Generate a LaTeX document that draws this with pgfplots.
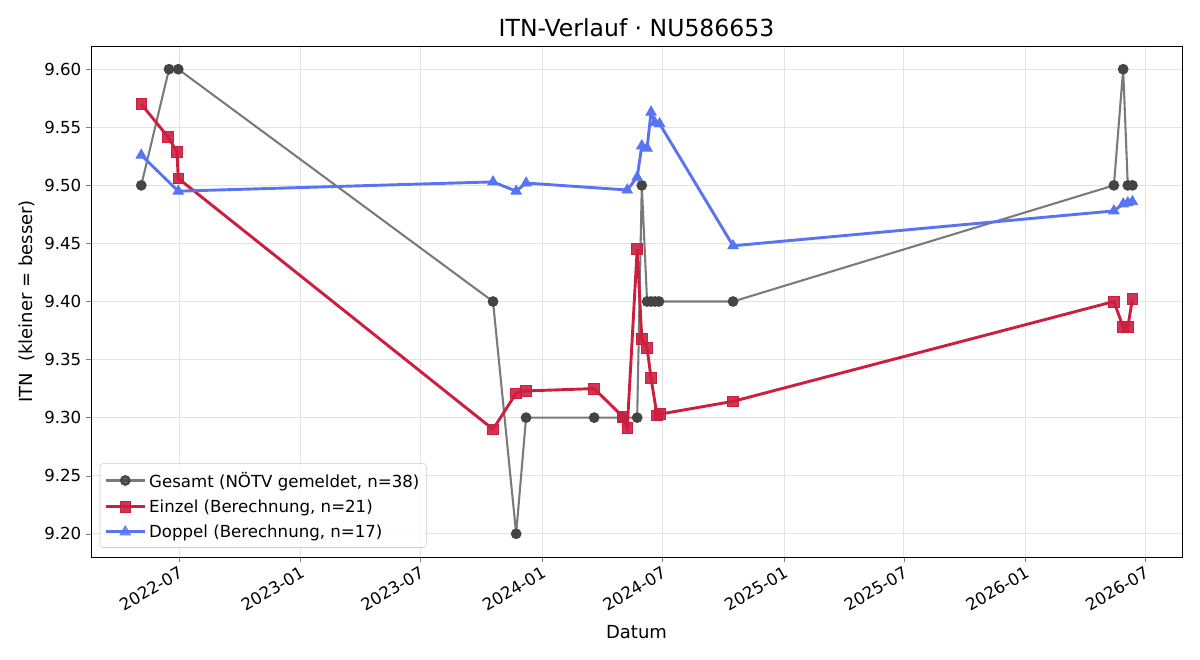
\documentclass[border=0pt]{standalone}
\usepackage{fontspec}
\setmainfont{DejaVu Sans}
\usepackage{pgfplots}
\pgfplotsset{compat=1.18}
\usepackage{pgfplotstable}
\definecolor{gline}{HTML}{7A7A7A}
\definecolor{gmark}{HTML}{444444}
\definecolor{rline}{HTML}{CC1F40}
\definecolor{bline}{HTML}{5874F2}
\definecolor{gridc}{HTML}{E3E3E3}
\pgfplotstableread{
d v
124 9.50
166 9.60
180 9.60
656 9.40
691 9.20
706 9.30
809 9.30
852 9.30
874 9.30
881 9.50
889 9.40
895 9.40
901 9.40
907 9.40
1019 9.40
1595 9.50
1609 9.60
1616 9.50
1623 9.50
}\gesamt
\pgfplotstableread{
d v
124 9.570
164 9.542
178 9.529
180 9.506
656 9.290
691 9.321
706 9.323
809 9.325
852 9.301
859 9.291
874 9.445
881 9.368
889 9.360
895 9.334
904 9.302
908 9.303
1019 9.314
1595 9.400
1609 9.378
1616 9.378
1623 9.402
}\einzel
\pgfplotstableread{
d v
124 9.526
180 9.495
656 9.503
691 9.495
706 9.502
859 9.496
874 9.507
881 9.534
889 9.532
895 9.563
901 9.554
908 9.553
1019 9.448
1595 9.478
1609 9.484
1616 9.485
1623 9.486
}\doppel
\begin{document}
\begin{tikzpicture}
\path[use as bounding box] (0,0) rectangle (12in,6.6in);
\begin{axis}[
  at={(0.91in,1.03in)}, anchor=south west,
  scale only axis, width=10.91in, height=5.11in,
  xmin=48, xmax=1698, ymin=9.18, ymax=9.62,
  xtick={181,365,546,730,912,1096,1277,1461,1642},
  xticklabels={2022-07,2023-01,2023-07,2024-01,2024-07,2025-01,2025-07,2026-01,2026-07},
  xticklabel style={rotate=30, anchor=north east, font=\fontsize{12}{14}\selectfont, inner sep=2pt},
  ytick={9.20,9.25,...,9.61},
  yticklabel style={/pgf/number format/fixed, /pgf/number format/fixed zerofill, /pgf/number format/precision=2, font=\fontsize{12}{14}\selectfont},
  /pgf/number format/assume math mode=true,
  tick align=outside, xtick pos=left, ytick pos=left,
  major tick length=3.5pt,
  grid=major, grid style={gridc, line width=0.6pt},
  axis line style={line width=0.7pt},
  title={ITN-Verlauf · NU586653},
  title style={font=\fontsize{17}{20}\selectfont, yshift=-3pt},
  xlabel={Datum}, ylabel={ITN\ \ (kleiner = besser)},
  xlabel style={font=\fontsize{13}{15}\selectfont, yshift=-4pt},
  ylabel style={font=\fontsize{13}{15}\selectfont},
  legend style={font=\fontsize{12}{14}\selectfont, draw=black!20, rounded corners=2pt, fill=white, fill opacity=0.8, text opacity=1, at={(0.008,0.018)}, anchor=south west, row sep=3.5pt, inner ysep=4pt, inner xsep=3pt},
  legend cell align=left,
  legend image code/.code={\draw[mark repeat=2,mark phase=2] plot coordinates {(0cm,0cm) (0.5cm,0cm) (1cm,0cm)};},
]
\addplot[gline, line width=1.5pt, mark=*, mark size=3.1pt, mark options={fill=gmark, draw=gmark}] table[x=d,y=v]{\gesamt};
\addlegendentry{Gesamt (NÖTV gemeldet, n=38)}
\addplot[rline, line width=2.1pt, mark=square*, mark size=3.9pt, mark options={fill=rline, draw=rline, line width=0.5pt, fill opacity=0.9}] table[x=d,y=v]{\einzel};
\addlegendentry{Einzel (Berechnung, n=21)}
\addplot[bline, line width=2.1pt, mark=triangle*, mark size=4.4pt, mark options={fill=bline, draw=bline, line width=0.5pt}] table[x=d,y=v]{\doppel};
\addlegendentry{Doppel (Berechnung, n=17)}
\end{axis}
\end{tikzpicture}
\end{document}
